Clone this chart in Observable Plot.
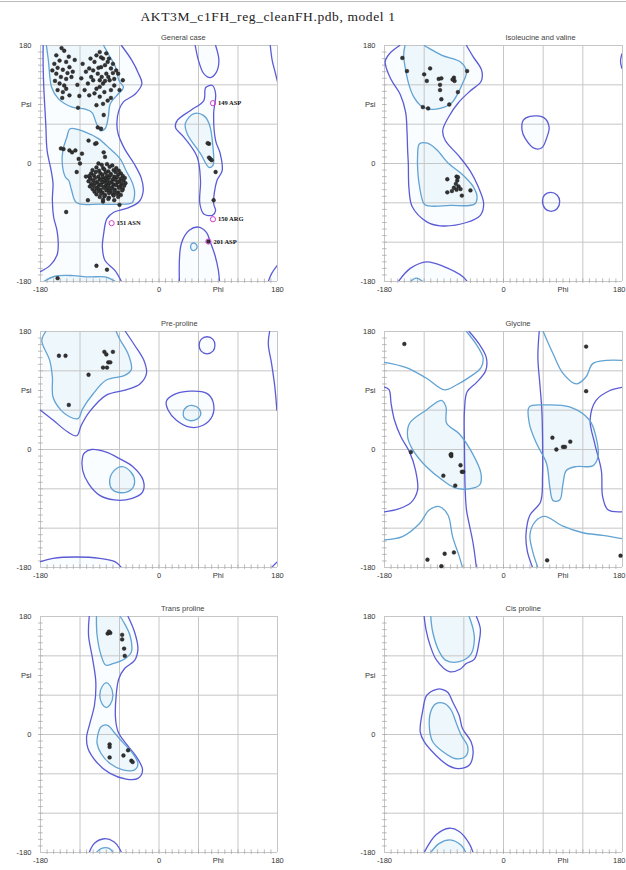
<!DOCTYPE html>
<html><head><meta charset="utf-8">
<script src="https://cdn.jsdelivr.net/npm/d3@7"></script>
<script src="https://cdn.jsdelivr.net/npm/@observablehq/plot@0.6"></script>
<style>
html,body{margin:0;padding:0;background:#fff;width:626px;height:870px;overflow:hidden;}
#wrap{position:relative;width:626px;height:870px;}
.panel{position:absolute;}
.panel svg{overflow:visible;}
#title{position:absolute;top:9px;left:0;width:536px;text-align:center;font-family:"Liberation Serif",serif;font-size:13.5px;letter-spacing:0.6px;color:#222;}
#topline{position:absolute;top:1px;left:0;width:626px;height:1px;background:#bbb;}
</style></head>
<body><div id="wrap"><div id="topline"></div><div id="title">AKT3M_c1FH_reg_cleanFH.pdb, model 1</div></div>
<script>
// ---------- axis / labels ----------
const gridTicks = [-180, -120, -60, 0, 60, 120, 180];
const xLabels = [[-180, "-180"], [0, "0"], [90, "Phi"], [180, "180"]];
const yLabels = [[180, "180"], [90, "Psi"], [0, "0"], [-180, "-180"]];
const panelTitles = ["General case", "Isoleucine and valine", "Pre-proline", "Glycine", "Trans proline", "Cis proline"];

// ---------- General case ----------
const gcOuterLeft = [[-176,180],[-176,150],[-175,116],[-172,60],[-170,20],[-164,-10],[-161,-30],[-162,-56],[-160,-82],[-155,-102],[-153,-122],[-155,-140],[-165,-155],[-180,-165]];
const gcOuterRight = [[-57,180],[-41,157],[-31,137],[-26,122],[-36,106],[-54,94],[-61,81],[-64,61],[-62,45],[-52,22],[-38,0],[-27,-22],[-24,-42],[-30,-58],[-48,-68],[-68,-74],[-79,-84],[-84,-107],[-86,-128],[-82,-148],[-67,-163],[-57,-180]];
const gcInnerBeta = [[-171,180],[-168,157],[-163,116],[-153,99],[-132,86],[-112,83],[-102,78],[-95,61],[-89,50],[-82,53],[-77,71],[-74,91],[-62,106],[-54,116],[-61,127],[-66,147],[-77,167],[-84,180]];
const gcInnerBetaBottom = [[-175,-180],[-158,-172],[-130,-171],[-107,-173],[-82,-173],[-66,-180]];
const gcInnerAlpha = [[-135,53],[-112,48],[-92,38],[-74,22],[-59,7],[-49,-13],[-41,-28],[-37,-45],[-41,-60],[-56,-62],[-90,-62],[-125,-60],[-133,-40],[-137,-26],[-142,-21],[-147,0],[-146,20],[-140,40]];
const gcOuterLH = [[81,119],[71,116],[68,96],[48,81],[28,66],[25,55],[38,40],[58,10],[63,-26],[62,-61],[68,-77],[81,-79],[86,-72],[83,-61],[88,-26],[96,-11],[93,15],[86,35],[83,76],[86,106]];
const gcInnerLH = [[53,76],[40,61],[43,45],[63,15],[76,-6],[82,-3],[82,25],[76,61],[68,73]];
const gcTopU = [[55,180],[60,157],[68,137],[78,131],[87,139],[91,157],[86,180]];
const gcBottomDome = [[31,-180],[34,-122],[46,-102],[60,-97],[72,-105],[78,-120],[85,-140],[90,-162],[92,-180]];
const gcSmallCircle = [[48,-127],[50,-122],[55,-122],[58,-127],[55,-132],[50,-132]];
const gcRightEdgeTop = [[169,180],[172,157],[177,137],[182,116]];
const gcRightEdgeBottom = [[166,-180],[171,-168],[180,-155]];
const gcPoints = [
 [-156,165],[-144,172],[-151,157],[-159,152],[-141,155],[-154,146],[-146,143],[-136,147],[-131,140],[-156,137],[-149,132],[-141,129],[-133,132],[-151,122],[-144,119],[-154,112],[-146,109],[-141,114],[-136,104],[-121,103],[-123,85],[-106,104],[-113,112],[-108,122],[-103,132],[-111,140],[-106,145],[-98,155],[-95,165],[-90,170],[-85,160],[-80,168],[-88,147],[-93,137],[-100,127],[-90,127],[-80,137],[-73,145],[-70,152],[-78,155],[-85,122],[-75,127],[-68,129],[-62,137],[-55,127],[-90,117],[-83,109],[-98,107],[-90,102],[-95,89],[-85,91],[-78,96],[-68,119],[-73,112],[-84,74],[-93,55],[-88,53],
 [-148,176],[-137,163],[-128,158],[-162,142],[-118,130],[-124,120],[-100,142],[-92,146],[-82,150],[-77,132],[-65,142],[-95,114],[-87,132],[-104,160],[-73,100],[-60,112],[-147,100],[-158,126],[-139,138],[-116,152],[-82,126],[-70,138],[-88,162],[-76,160],
 [-107,35],[-97,30],[-145,22],[-132,17],[-127,20],[-117,15],[-122,7],[-120,0],[-84,17],[-82,10],[-92,0],[-105,-21],[-125,-13],[-149,23],[-136,20],[-95,31],[-111,-20],[-108,-56],[-85,-58],[-60,-63],
 [-87,-2],[-79,-1],[-71,-3],
 [-95,-6],[-85,-7],[-75,-5],[-65,-7],
 [-101,-10],[-91,-11],[-83,-9],[-77,-12],[-69,-10],[-61,-11],
 [-103,-15],[-96,-13],[-89,-15],[-81,-14],[-73,-16],[-66,-13],[-58,-15],
 [-106,-19],[-99,-18],[-92,-20],[-86,-17],[-79,-19],[-74,-18],[-68,-20],[-62,-17],[-55,-19],
 [-104,-23],[-97,-22],[-90,-24],[-85,-21],[-81,-23],[-76,-22],[-70,-24],[-64,-21],[-58,-23],[-52,-22],
 [-107,-27],[-100,-26],[-94,-28],[-88,-25],[-83,-27],[-78,-26],[-72,-28],[-66,-25],[-60,-27],[-54,-26],
 [-103,-31],[-97,-30],[-91,-32],[-86,-29],[-80,-31],[-75,-30],[-69,-32],[-63,-29],[-57,-31],[-51,-30],
 [-105,-35],[-99,-34],[-93,-36],[-88,-33],[-82,-35],[-77,-34],[-71,-36],[-65,-33],[-59,-35],[-53,-34],
 [-101,-39],[-95,-38],[-89,-40],[-84,-37],[-78,-39],[-73,-38],[-67,-40],[-61,-37],[-55,-39],
 [-98,-43],[-92,-42],[-86,-44],[-80,-41],[-74,-43],[-68,-42],[-62,-44],[-56,-41],
 [-95,-47],[-88,-46],[-82,-48],[-76,-45],[-70,-47],[-64,-46],[-58,-48],
 [-90,-51],[-83,-50],[-76,-52],[-69,-49],[-62,-51],
 [-85,-55],[-77,-54],[-68,-56],
 [-141,-74],[-95,-156],[-79,-162],[-154,-175],
 [76,30],[78,7],[76,9],[80,5],[86,-13],[83,-56],[74,31],[75,-119]
];
const gcOutliers = [[82,92,"149 ASP"],[-72,-91,"151 ASN"],[82,-85,"150 ARG"],[75,-119,"201 ASP"]];

// ---------- Isoleucine and valine ----------
const ivOuter = [[-157,180],[-172,168],[-179,155],[-170,128],[-156,105],[-148,78],[-146,50],[-145,20],[-144,0],[-143,-38],[-138,-66],[-116,-89],[-96,-95],[-56,-90],[-35,-79],[-30,-61],[-38,-36],[-50,-12],[-68,12],[-88,35],[-92,50],[-83,71],[-68,93],[-50,111],[-34,125],[-33,142],[-46,163],[-56,180]];
const ivInnerTop = [[-149,180],[-151,165],[-147,137],[-143,120],[-136,102],[-126,89],[-113,83],[-96,84],[-79,92],[-69,107],[-62,122],[-56,140],[-65,155],[-93,165],[-113,176],[-120,180]];
const ivInnerAlpha = [[-127,30],[-115,31],[-101,21],[-83,0],[-63,-16],[-46,-35],[-40,-51],[-44,-62],[-80,-64],[-119,-63],[-124,-51],[-127,-35],[-129,-20],[-130,10]];
const ivBottomOuter = [[-159,-180],[-141,-160],[-116,-150],[-91,-157],[-61,-173],[-55,-180]];
const ivBottomInner = [[-141,-180],[-132,-175],[-122,-180]];
const ivCircle1 = [[30,66],[40,72],[61,70],[69,56],[66,41],[58,24],[47,23],[33,38],[28,51]];
const ivCircle2 = [[59,-57],[62,-48],[71,-44],[81,-48],[85,-58],[81,-69],[72,-73],[63,-69]];
const ivEdgeMark = [[179,167],[177,156],[179,145]];
const ivPoints = [[-153,161],[-146,141],[-111,145],[-120,136],[-116,126],[-98,129],[-94,130],[-96,120],[-96,112],[-75,131],[-74,126],[-77,128],[-69,109],[-55,141],[-94,98],[-82,90],[-122,86],[-114,84],
 [-85,-24],[-71,-20],[-69,-21],[-70,-26],[-72,-31],[-68,-35],[-65,-39],[-75,-37],[-71,-40],[-63,-49],[-85,-44],[-78,-42],[-50,-41]];

// ---------- Pre-proline ----------
const ppOuter = [[-180,60],[-161,45],[-139,27],[-125,21],[-118,37],[-106,57],[-80,83],[-50,91],[-29,100],[-19,116],[-23,136],[-37,159],[-51,180]];
const ppInner = [[-172,180],[-178,166],[-166,136],[-162,111],[-161,80],[-149,60],[-136,50],[-123,47],[-116,62],[-100,85],[-80,106],[-52,113],[-42,122],[-47,146],[-60,169],[-65,180]];
const ppRightEdge = [[168,180],[166,161],[171,131],[176,95],[179,60]];
const ppRightBottom = [[171,-180],[179,-172]];
const ppBottom = [[-180,-171],[-161,-166],[-126,-164],[-90,-166],[-67,-171],[-57,-180]];
const ppSmallCircle = [[61,159],[64,168],[73,172],[82,168],[85,159],[82,150],[73,146],[64,150]];
const ppMidOuter = [[11,73],[21,83],[47,89],[72,86],[82,73],[81,51],[67,37],[47,34],[26,45],[14,60]];
const ppMidInner = [[37,57],[42,65],[52,67],[61,62],[63,52],[57,46],[47,44],[38,49]];
const ppLowOuter = [[-113,-5],[-103,0],[-80,-4],[-60,-14],[-40,-26],[-24,-47],[-25,-65],[-42,-75],[-68,-77],[-90,-70],[-107,-52],[-116,-32],[-116,-11]];
const ppLowInner = [[-75,-49],[-69,-33],[-56,-26],[-43,-34],[-37,-48],[-42,-61],[-57,-66],[-71,-61]];
const ppPoints = [[-152,143],[-142,143],[-83,149],[-80,145],[-70,149],[-77,133],[-74,133],[-85,125],[-79,125],[-107,114],[-137,68]];

// ---------- Glycine ----------
const glOuterL1 = [[-180,95],[-173,91],[-170,70],[-165,45],[-155,19],[-142,-4],[-133,-32],[-130,-62],[-140,-81],[-160,-91],[-180,-95]];
const glOuterR1 = [[180,95],[161,90],[140,75],[131,45],[138,9],[148,-32],[150,-72],[158,-92],[180,-95]];
const glOuterL2 = [[-52,180],[-37,161],[-26,140],[-27,120],[-41,102],[-55,88],[-59,60],[-59,0],[-58,-60],[-56,-92],[-51,-118],[-46,-143],[-41,-180]];
const glOuterR2 = [[44,-180],[36,-155],[34,-130],[40,-100],[56,-80],[59,-40],[59,20],[58,60],[55,100],[52,140],[54,180]];
const glInnerTL = [[-180,133],[-147,125],[-117,109],[-89,91],[-72,98],[-52,110],[-34,125],[-31,140],[-41,160],[-56,180]];
const glInnerBL = [[-180,-138],[-153,-133],[-127,-113],[-112,-92],[-97,-87],[-84,-100],[-77,-133],[-67,-163],[-62,-180]];
const glInnerTR = [[60,180],[75,146],[90,116],[110,100],[125,111],[135,131],[156,136],[180,136]];
const glInnerBR = [[180,-136],[150,-131],[120,-127],[90,-117],[62,-102],[48,-110],[40,-130],[44,-155],[52,-180]];
const glInnerCL = [[-142,40],[-117,60],[-94,75],[-87,65],[-86,40],[-67,24],[-47,-6],[-34,-37],[-36,-54],[-52,-60],[-72,-59],[-92,-47],[-117,-26],[-137,-1],[-145,19]];
const glInnerCR = [[39,65],[60,68],[100,65],[130,45],[140,19],[143,-11],[135,-25],[110,-26],[95,-32],[90,-52],[85,-77],[75,-78],[70,-57],[65,-21],[50,9],[39,40]];
const glPoints = [[-150,161],[125,157],[125,89],[-140,-4],[-79,-7],[-79,-10],[-80,-8],[-65,-24],[-63,-34],[-61,-34],[-91,-40],[-73,-55],[74,18],[80,0],[90,4],[93,4],[101,12],[-115,-168],[-89,-159],[-75,-157],[-94,-178],[66,-169],[177,-162]];

// ---------- Trans proline ----------
const tpOuter = [[-106,180],[-107,151],[-101,116],[-96,80],[-98,45],[-105,17],[-110,-4],[-108,-21],[-95,-42],[-75,-59],[-50,-68],[-32,-67],[-25,-54],[-35,-33],[-50,-14],[-62,4],[-66,24],[-65,60],[-61,85],[-52,101],[-37,113],[-32,131],[-37,156],[-47,180]];
const tpInnerTop = [[-95,180],[-94,151],[-88,121],[-81,106],[-70,108],[-51,116],[-42,126],[-44,151],[-54,172],[-59,180]];
const tpInnerMid = [[-80,79],[-74,74],[-70,60],[-74,46],[-80,41],[-86,46],[-90,60],[-86,74]];
const tpInnerLow = [[-93,-1],[-88,12],[-78,14],[-68,3],[-55,-12],[-42,-26],[-32,-44],[-37,-54],[-55,-54],[-75,-44],[-88,-29],[-94,-14]];
const tpBottomOuter = [[-106,-180],[-98,-166],[-83,-159],[-68,-164],[-60,-174],[-57,-180]];
const tpBottomInner = [[-95,-180],[-88,-174],[-75,-174],[-70,-180]];
const tpPoints = [[-78,154],[-74,155],[-76,157],[-56,152],[-56,145],[-53,131],[-52,120],[-75,-15],[-75,-19],[-75,-35],[-54,-32],[-47,-24],[-42,-40],[-40,-42]];

// ---------- Cis proline ----------
const cpTopOuter = [[-120,180],[-117,159],[-111,136],[-101,113],[-82,96],[-65,100],[-57,108],[-44,115],[-37,141],[-35,161],[-41,180]];
const cpTopInner = [[-110,180],[-107,156],[-97,126],[-87,113],[-67,111],[-49,123],[-44,146],[-46,161],[-52,180]];
const cpMidOuter = [[-101,69],[-116,60],[-122,37],[-126,4],[-120,-11],[-102,-32],[-84,-47],[-69,-52],[-52,-47],[-46,-29],[-49,-11],[-62,9],[-67,29],[-77,50],[-84,64],[-93,69]];
const cpMidInner = [[-102,47],[-110,35],[-112,9],[-107,-11],[-92,-26],[-72,-37],[-57,-33],[-54,-19],[-64,-1],[-72,19],[-79,37],[-89,47]];
const cpBottomOuter = [[-120,-180],[-102,-153],[-82,-143],[-67,-148],[-52,-166],[-46,-180]];
const cpBottomInner = [[-110,-180],[-97,-166],[-79,-161],[-64,-169],[-57,-180]];
const cpPoints = [];

// ---------- styling ----------
const OUTER = "#5b5bd6", INNER = "#62a3d3", OFILL = "#fafdff", IFILL = "#eef7fc";

const O = (pts, closed=false) => ({pts, kind:"outer", closed});
const I = (pts, closed=false) => ({pts, kind:"inner", closed});

const panels = [
 {title: panelTitles[0], col:0, row:0, points: gcPoints, outliers: gcOutliers,
  fills: [O([...gcOuterRight, [-180,-180], ...gcOuterLeft.slice().reverse()]), O(gcOuterLH), O(gcTopU), O(gcBottomDome),
          O([...gcRightEdgeTop, [180,180]]), O([...gcRightEdgeBottom, [180,-180]]),
          I(gcInnerBeta), I(gcInnerBetaBottom), I(gcInnerAlpha), I(gcInnerLH), I(gcSmallCircle)],
  strokes: [O(gcOuterLeft), O(gcOuterRight), O(gcOuterLH,true), O(gcTopU), O(gcBottomDome), O(gcRightEdgeTop), O(gcRightEdgeBottom),
            I(gcInnerBeta), I(gcInnerBetaBottom), I(gcInnerAlpha,true), I(gcInnerLH,true), I(gcSmallCircle,true)]},
 {title: panelTitles[1], col:1, row:0, points: ivPoints, outliers: [],
  fills: [O(ivOuter), O(ivBottomOuter), O(ivCircle1), O(ivCircle2), I(ivInnerTop), I(ivInnerAlpha), I(ivBottomInner)],
  strokes: [O(ivOuter), O(ivBottomOuter), O(ivCircle1,true), O(ivCircle2,true), O(ivEdgeMark), I(ivInnerTop), I(ivInnerAlpha,true), I(ivBottomInner)]},
 {title: panelTitles[2], col:0, row:1, points: ppPoints, outliers: [],
  fills: [O([...ppOuter, [-180,180]]), O([...ppRightEdge, [180,60], [180,180]]), O([...ppBottom, [-180,-180]]), O(ppSmallCircle), O(ppMidOuter), O(ppLowOuter),
          I(ppInner), I(ppMidInner), I(ppLowInner)],
  strokes: [O(ppOuter), O(ppRightEdge), O(ppRightBottom), O(ppBottom), O(ppSmallCircle,true), O(ppMidOuter,true), O(ppLowOuter,true),
            I(ppInner), I(ppMidInner,true), I(ppLowInner,true)]},
 {title: panelTitles[3], col:1, row:1, points: glPoints, outliers: [],
  fills: [I(glInnerCL), I(glInnerCR)],
  strokes: [O(glOuterL1), O(glOuterR1), O(glOuterL2), O(glOuterR2), I(glInnerTL), I(glInnerBL), I(glInnerTR), I(glInnerBR), I(glInnerCL,true), I(glInnerCR,true)]},
 {title: panelTitles[4], col:0, row:2, points: tpPoints, outliers: [],
  fills: [O(tpOuter), O(tpBottomOuter), I(tpInnerTop), I(tpInnerMid), I(tpInnerLow), I(tpBottomInner)],
  strokes: [O(tpOuter), O(tpBottomOuter), I(tpInnerTop), I(tpInnerMid,true), I(tpInnerLow,true), I(tpBottomInner)]},
 {title: panelTitles[5], col:1, row:2, points: cpPoints, outliers: [],
  fills: [O(cpTopOuter), O(cpMidOuter), O(cpBottomOuter), I(cpTopInner), I(cpMidInner), I(cpBottomInner)],
  strokes: [O(cpTopOuter), O(cpMidOuter,true), O(cpBottomOuter), I(cpTopInner), I(cpMidInner,true), I(cpBottomInner)]}
];

const rowTop = [29, 315, 600];
const minor = d3.range(-170, 180, 10);
const px = d => d[0], py = d => d[1];
const wrap = document.getElementById("wrap");

for (const p of panels) {
  const W = p.col === 0 ? 300 : 282;
  const plotW = p.col === 0 ? 237 : 238;
  const marks = [];
  for (const f of p.fills) marks.push(Plot.line(f.pts, {x: px, y: py, curve: "catmull-rom-closed", fill: f.kind === "outer" ? OFILL : IFILL, stroke: "none", clip: true}));
  marks.push(Plot.ruleX(gridTicks, {stroke: "#c6c6c6", strokeWidth: 1}));
  marks.push(Plot.ruleY(gridTicks, {stroke: "#c6c6c6", strokeWidth: 1}));
  marks.push(Plot.ruleY(minor, {y: d => d, x1: () => -183, x2: () => -176, stroke: "#aaa", strokeWidth: 0.8}));
  marks.push(Plot.ruleX(minor, {x: d => d, y1: () => -183, y2: () => -176, stroke: "#aaa", strokeWidth: 0.8}));
  for (const s of p.strokes) marks.push(Plot.line(s.pts, {x: px, y: py, curve: s.closed ? "catmull-rom-closed" : "catmull-rom", stroke: s.kind === "outer" ? OUTER : INNER, strokeWidth: 1.3, clip: true}));
  marks.push(Plot.dot(p.points, {x: px, y: py, r: 1.9, fill: "#333", stroke: "#111", strokeWidth: 0.4}));
  if (p.outliers.length) {
    marks.push(Plot.dot(p.outliers, {x: px, y: py, r: 2.6, stroke: "#d23cd2", fill: "none", strokeWidth: 1}));
    marks.push(Plot.text(p.outliers, {x: px, y: py, text: d => d[2], dx: 5, textAnchor: "start", fontFamily: "Liberation Serif, serif", fontWeight: "bold", fontSize: 6.5, fill: "#111"}));
  }
  marks.push(Plot.text(yLabels, {x: () => -180, y: px, text: py, dx: -9, textAnchor: "end", fill: "#333"}));
  const xl = p.col === 0 ? xLabels : xLabels.slice(0, 3);
  marks.push(Plot.text(xl, {x: px, y: () => -180, text: py, dy: 8, fill: "#333"}));
  if (p.col === 1) marks.push(Plot.text(xLabels.slice(3), {x: px, y: () => -180, text: py, dy: 8, textAnchor: "end", dx: 3, fill: "#333"}));
  marks.push(Plot.text([p.title], {x: () => 0, y: () => 180, text: d => d, dx: 2, dy: -8, textAnchor: "start", fill: "#444"}));
  const svg = Plot.plot({
    width: W, height: 272, marginTop: 16, marginBottom: 20, marginLeft: 40, marginRight: W - 40 - plotW,
    x: {domain: [-180, 180], axis: null}, y: {domain: [-180, 180], axis: null},
    style: {fontFamily: "'Liberation Sans', Arial, sans-serif", fontSize: "7.5px", background: "transparent", overflow: "visible", color: "#333"},
    marks
  });
  const div = document.createElement("div");
  div.className = "panel";
  div.style.left = (p.col === 0 ? 0 : 344) + "px";
  div.style.top = rowTop[p.row] + "px";
  div.appendChild(svg);
  wrap.appendChild(div);
}
</script>
</body></html>
